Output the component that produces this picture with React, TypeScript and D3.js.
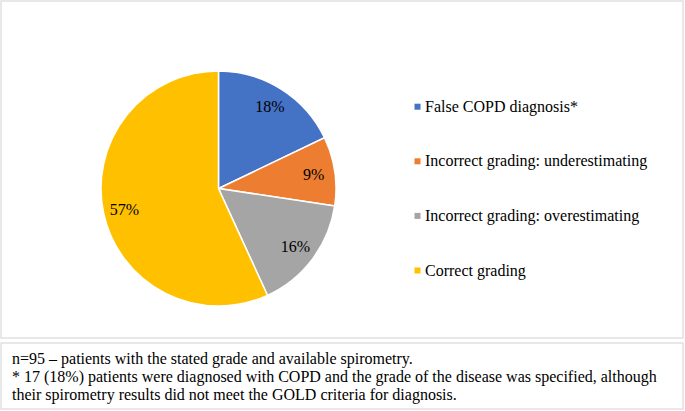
import React from "react";
import * as d3 from "d3";

const categories = [
  "False COPD diagnosis*",
  "Incorrect grading: underestimating",
  "Incorrect grading: overestimating",
  "Correct grading",
];
const counts = [17, 9, 15, 54];
const colors = ["#4472C4", "#ED7D31", "#A5A5A5", "#FFC000"];
const footnotes = [
  "n=95 – patients with the stated grade and available spirometry.",
  "* 17 (18%) patients were diagnosed with COPD and the grade of the disease was specified, although",
  "their spirometry results did not meet the GOLD criteria for diagnosis.",
];

const W = 685;
const H = 411;
const FONT = '"Liberation Serif"';

export default function App() {
  const cx = 218.5;
  const cy = 188.5;
  const r = 117.5;
  const total = d3.sum(counts);
  const pie = d3.pie<number>().sort(null).value((d) => d)(counts);
  const arc = d3.arc<d3.PieArcDatum<number>>().innerRadius(0).outerRadius(r);
  const labelArc = d3
    .arc<d3.PieArcDatum<number>>()
    .innerRadius(r * 0.82)
    .outerRadius(r * 0.82);

  const legendY = d3
    .scalePoint<number>()
    .domain(d3.range(categories.length))
    .range([111.7, 275.5]);

  const ts: React.CSSProperties = { fontFamily: FONT, fontSize: "16px" };

  return (
    <svg
      width={W}
      height={H}
      style={{ position: "absolute", left: 0, top: 0, background: "#fff" }}
    >
      <rect x={1} y={1} width={682} height={337} fill="#fff" stroke="#d9d9d9" strokeWidth={1.2} />
      <rect x={1} y={343} width={682} height={66} fill="#fff" stroke="#d9d9d9" strokeWidth={1.2} />
      <g transform={`translate(${cx},${cy})`}>
        {pie.map((d, i) => (
          <path key={i} d={arc(d) || ""} fill={colors[i]} stroke="#fff" strokeWidth={1.5} />
        ))}
        {pie.map((d, i) => {
          const [x, y] = labelArc.centroid(d);
          return (
            <text
              key={i}
              x={x}
              y={y}
              textAnchor="middle"
              dominantBaseline="central"
              style={ts}
              fill="#000"
            >
              {Math.round((counts[i] / total) * 100)}%
            </text>
          );
        })}
      </g>
      {categories.map((c, i) => (
        <g key={c}>
          <rect x={414.5} y={legendY(i)! - 8} width={6} height={6} fill={colors[i]} />
          <text x={425} y={legendY(i)} style={ts} fill="#000">
            {c}
          </text>
        </g>
      ))}
      {footnotes.map((t, i) => (
        <text key={i} x={12} y={364 + i * 17.8} style={ts} fill="#000">
          {t}
        </text>
      ))}
    </svg>
  );
}
